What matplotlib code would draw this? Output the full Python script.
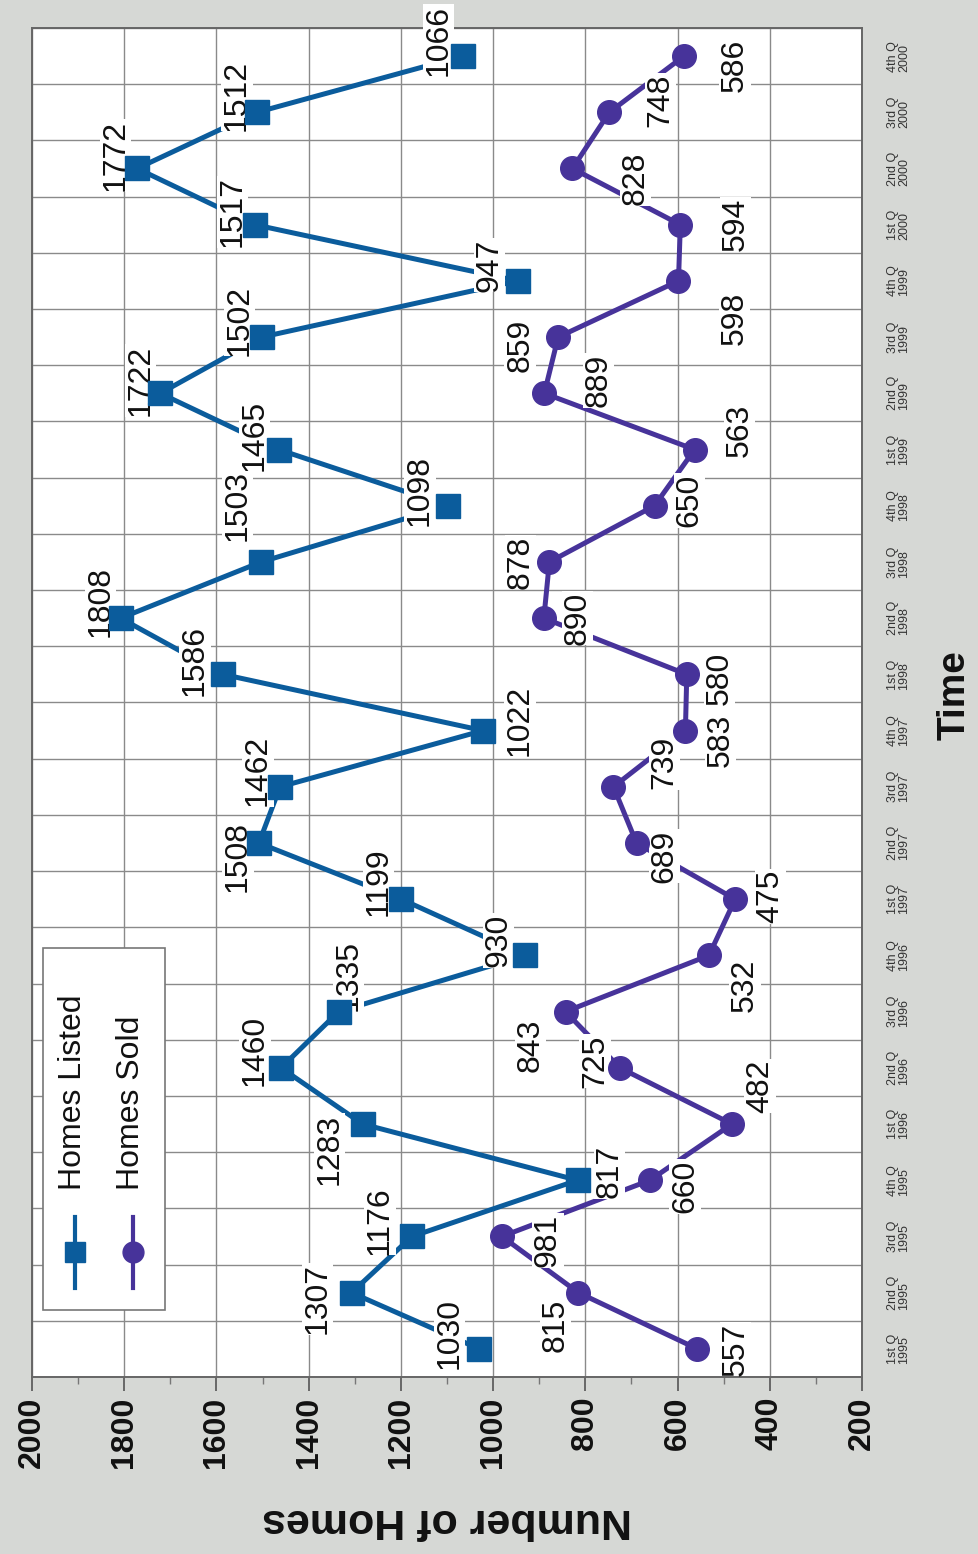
import matplotlib
matplotlib.use("Agg")
import matplotlib.pyplot as plt
from matplotlib.patches import Rectangle
from matplotlib.lines import Line2D
import numpy as np

plt.rcParams['font.family'] = ['Liberation Sans', 'DejaVu Sans']

# data (quarters 1995 Q1 .. 2000 Q4)
quarters = [f"{q} Q\n{y}" for y in range(1995, 2001) for q in ("1st", "2nd", "3rd", "4th")]
homes_listed = [1030, 1307, 1176, 817, 1283, 1460, 1335, 930, 1199, 1508, 1462, 1022,
                1586, 1808, 1503, 1098, 1465, 1722, 1502, 947, 1517, 1772, 1512, 1066]
homes_sold = [557, 815, 981, 660, 482, 725, 843, 532, 475, 689, 739, 583,
              580, 890, 878, 650, 563, 889, 859, 598, 594, 828, 748, 586]
value_ticks = list(range(2000, 199, -200))

# label placement (pixel offsets: right, down in the picture)
listed_offsets = [(-30, -15), (-34, 6), (-32, -16), (32, -9), (-33, 25), (-26, -17),
                  (10, -36), (-27, -15), (-23, -18), (-21, 13), (-22, -16), (37, -10),
                  (-28, -14), (-20, -17), (-24, -56), (-28, -15), (-24, -14), (-20, -13),
                  (-22, -17), (-28, -16), (-22, -13), (-22, -13), (-20, -17), (-24, -16)]
sold_offsets = [(38, 0), (-23, 33), (46, 4), (35, 6), (28, -38), (-25, -7),
                (-35, 34), (36, 30), (35, -3), (28, 13), (51, -24), (35, 10),
                (33, 4), (34, 0), (-29, 0), (35, -5), (45, -19), (54, -13),
                (-38, 8), (56, 37), (55, 0), (63, 10), (51, -12), (51, 9)]

blue = '#0b5c9c'
purple = '#47339a'
bg = '#d6d8d5'

fig = plt.figure(figsize=(9.79, 15.54), dpi=100, facecolor=bg)
ax = fig.add_axes([0.0327, 0.1139, 0.8478, 0.8681])
ax.set_facecolor('white')

pos = np.arange(len(quarters))

# lines, then labels (white boxes break the lines), then markers on top
ax.plot(homes_listed, pos, color=blue, lw=3.6, zorder=2, solid_capstyle='butt')
ax.plot(homes_sold, pos, color=purple, lw=3.6, zorder=2, solid_capstyle='butt')

for v, p, (dx, dy) in zip(homes_listed, pos, listed_offsets):
    ax.annotate(str(v), (v, p), xytext=(dx, -dy), textcoords='offset pixels',
                rotation=90, ha='center', va='center', fontsize=23, color='#111111',
                bbox=dict(facecolor='white', edgecolor='none', pad=0.5), zorder=3)
for v, p, (dx, dy) in zip(homes_sold, pos, sold_offsets):
    ax.annotate(str(v), (v, p), xytext=(dx, -dy), textcoords='offset pixels',
                rotation=90, ha='center', va='center', fontsize=23, color='#111111',
                bbox=dict(facecolor='white', edgecolor='none', pad=0.5), zorder=3)

ax.plot(homes_listed, pos, ls='none', marker='s', ms=17, color=blue, zorder=4)
ax.plot(homes_sold, pos, ls='none', marker='o', ms=17, color=purple, zorder=4)

# value axis runs along the bottom, high values on the left
ax.set_xlim(2000, 200)
ax.set_xticks(value_ticks)
ax.set_xticks(range(1900, 200, -200), minor=True)
ax.set_xticklabels([str(t) for t in value_ticks], rotation=90, fontsize=23,
                   fontweight='bold', color='#111111')
ax.tick_params(axis='x', which='major', length=10, width=1.2, color='#555555', pad=4)
ax.tick_params(axis='x', which='minor', length=5, width=1, color='#777777')

# time axis runs up the right side
ax.set_ylim(-0.5, len(quarters) - 0.5)
ax.yaxis.tick_right()
ax.set_yticks(pos)
ax.set_yticklabels(quarters, rotation=90, fontsize=9, linespacing=0.95,
                   color='#333333', va='center', ha='left')
ax.set_yticks(np.arange(-0.5, len(quarters)), minor=True)
ax.tick_params(axis='y', which='both', length=0, pad=18)

ax.grid(True, axis='x', which='major', color='#8a8a8a', lw=1)
ax.grid(True, axis='y', which='minor', color='#8a8a8a', lw=1)
ax.set_axisbelow(True)
for s in ax.spines.values():
    s.set_color('#666666')
    s.set_linewidth(1.4)

fig.text(0.4566, 0.0219, 'Number of Homes', rotation=180, ha='center', va='center',
         fontsize=31, fontweight='bold', color='#111111')
fig.text(0.9755, 0.5528, 'Time', rotation=90, ha='center', va='center',
         fontsize=28, fontweight='bold', color='#111111')

# legend drawn by hand so it can sit sideways like the rest of the chart
ax.add_patch(Rectangle((0.0133, 0.0497), 0.1469, 0.2683, transform=ax.transAxes,
                       facecolor='white', edgecolor='#777777', lw=1.2, zorder=5))
for fx, col, mk, name in [(0.0518, blue, 's', 'Homes Listed'),
                          (0.1217, purple, 'o', 'Homes Sold')]:
    ax.add_line(Line2D([fx, fx], [0.066, 0.1186], transform=ax.transAxes,
                       color=col, lw=3, zorder=6))
    ax.add_line(Line2D([fx], [0.0927], transform=ax.transAxes, marker=mk, ms=15,
                       color=col, ls='none', zorder=6))
    ax.text(fx - 0.003, 0.1386, name, transform=ax.transAxes, rotation=90,
            ha='center', va='bottom', fontsize=23, color='#111111', zorder=6)

fig.savefig('out.png', dpi=100, facecolor=bg)
